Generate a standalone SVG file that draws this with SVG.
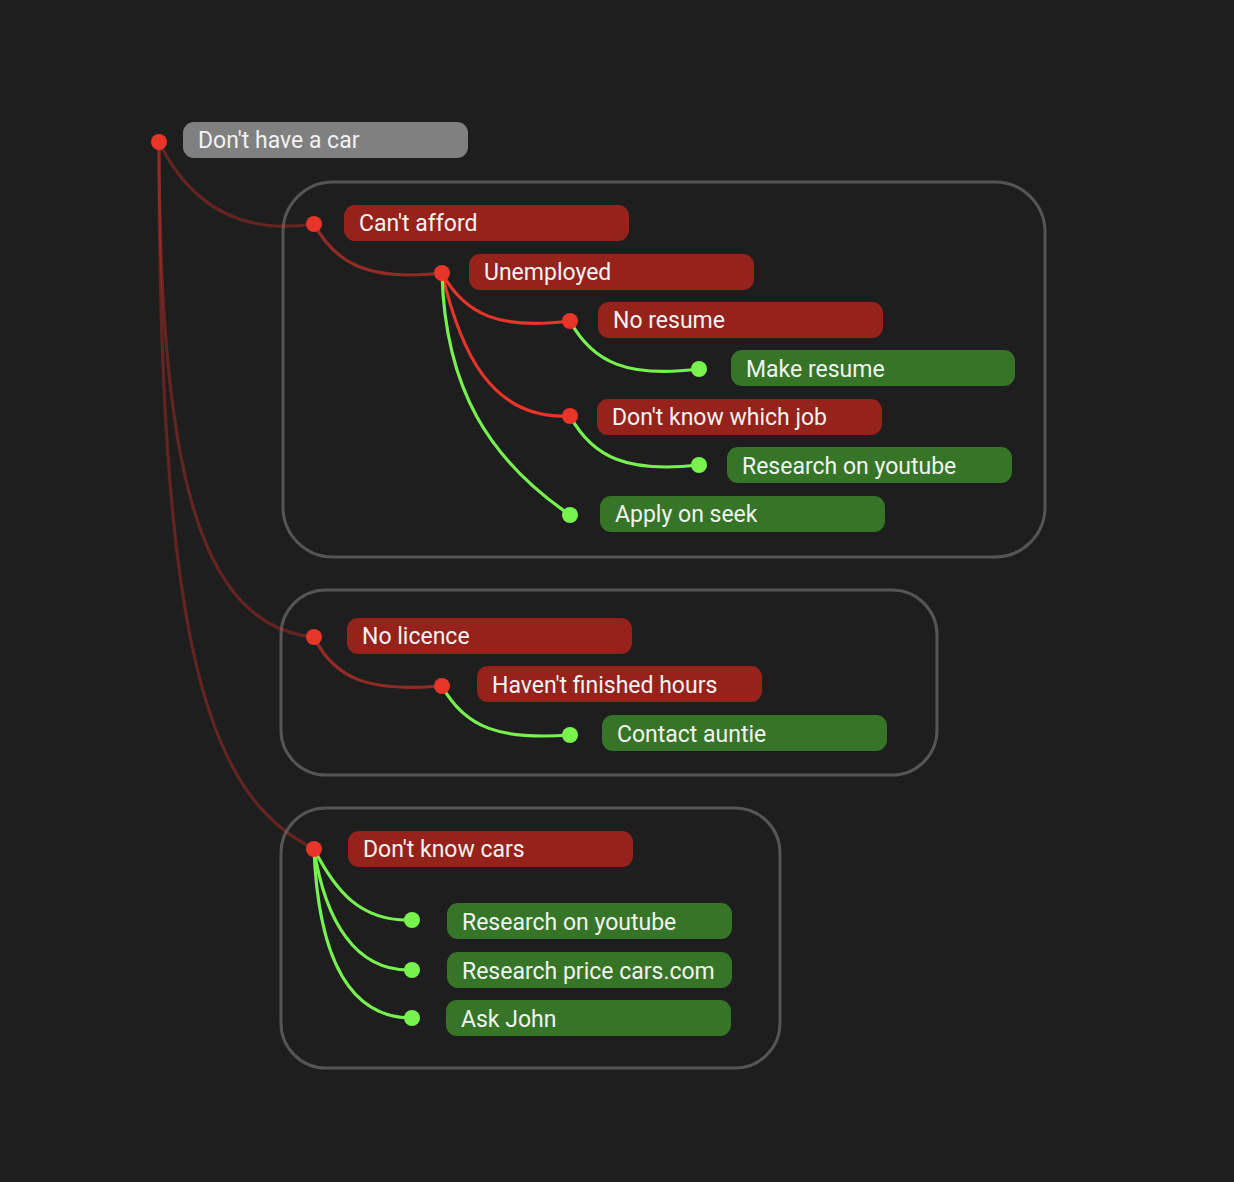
<svg xmlns="http://www.w3.org/2000/svg" width="1234" height="1182" viewBox="0 0 1234 1182">
<style>
.bg{fill:#1e1e1e}
.grp{fill:none;stroke:#555555;stroke-width:3}
.lnk{fill:none;stroke-width:3.2;stroke-linecap:round}
.r0{stroke:#e8352a;stroke-opacity:0.35}
.r1{stroke:#e8352a;stroke-opacity:0.58}
.r2{stroke:#e8352a}
.g{stroke:#78f24f}
.dr{fill:#e8352a}
.dg{fill:#78f24f}
.root{fill:#808080}
.red{fill:#95221b}
.grn{fill:#367527}
text{font-family:Roboto,"Liberation Sans",sans-serif;font-size:23px;fill:#f2f2f2}
</style>
<rect class="bg" x="0" y="0" width="1234" height="1182"/>
<g id="groups">
<rect class="grp" x="283" y="182" width="762" height="375" rx="50"/>
<rect class="grp" x="281" y="590" width="656" height="185" rx="45"/>
<rect class="grp" x="281" y="808" width="499" height="260" rx="45"/>
</g>
<g id="connectors">
<path class="lnk r0" d="M159,142 C190,205 240,235 314,224"/>
<path class="lnk r0" d="M159,142 C160,460 195,625 314,637"/>
<path class="lnk r0" d="M159,142 C159,640 205,795 314,849"/>
<path class="lnk r1" d="M314,224 C337,266 372,281 442,273"/>
<path class="lnk r2" d="M442,273 C465,315 500,330 570,321"/>
<path class="lnk r2" d="M442,273 C460,350 490,420 570,416"/>
<path class="lnk g" d="M442,273 C445,390 490,460 570,515"/>
<path class="lnk g" d="M570,321 C593,363 628,378 699,369"/>
<path class="lnk g" d="M570,416 C593,458 628,473 699,465"/>
<path class="lnk r1" d="M314,637 C335,680 370,692 442,686"/>
<path class="lnk g" d="M442,686 C465,728 500,740 570,735"/>
<path class="lnk g" d="M314,849 C335,890 360,922 412,920"/>
<path class="lnk g" d="M314,849 C325,920 355,972 412,970"/>
<path class="lnk g" d="M314,849 C318,950 345,1018 412,1018"/>
</g>
<g id="n-root"><circle class="dr" cx="159" cy="142" r="8"/><rect class="root" x="183" y="122" width="285" height="36" rx="11"/><text x="198" y="148">Don't have a car</text></g>
<g id="n-cant-afford"><circle class="dr" cx="314" cy="224" r="8"/><rect class="red" x="344" y="205" width="285" height="36" rx="11"/><text x="359" y="231">Can't afford</text></g>
<g id="n-unemployed"><circle class="dr" cx="442" cy="273" r="8"/><rect class="red" x="469" y="254" width="285" height="36" rx="11"/><text x="484" y="280">Unemployed</text></g>
<g id="n-no-resume"><circle class="dr" cx="570" cy="321" r="8"/><rect class="red" x="598" y="302" width="285" height="36" rx="11"/><text x="613" y="328">No resume</text></g>
<g id="n-make-resume"><circle class="dg" cx="699" cy="369" r="8"/><rect class="grn" x="731" y="350" width="284" height="36" rx="11"/><text x="746" y="377">Make resume</text></g>
<g id="n-which-job"><circle class="dr" cx="570" cy="416" r="8"/><rect class="red" x="597" y="399" width="285" height="36" rx="11"/><text x="612" y="425">Don't know which job</text></g>
<g id="n-research-job"><circle class="dg" cx="699" cy="465" r="8"/><rect class="grn" x="727" y="447" width="285" height="36" rx="11"/><text x="742" y="474">Research on youtube</text></g>
<g id="n-apply-seek"><circle class="dg" cx="570" cy="515" r="8"/><rect class="grn" x="600" y="496" width="285" height="36" rx="11"/><text x="615" y="522">Apply on seek</text></g>
<g id="n-no-licence"><circle class="dr" cx="314" cy="637" r="8"/><rect class="red" x="347" y="618" width="285" height="36" rx="11"/><text x="362" y="644">No licence</text></g>
<g id="n-hours"><circle class="dr" cx="442" cy="686" r="8"/><rect class="red" x="477" y="666" width="285" height="36" rx="11"/><text x="492" y="693">Haven't finished hours</text></g>
<g id="n-auntie"><circle class="dg" cx="570" cy="735" r="8"/><rect class="grn" x="602" y="715" width="285" height="36" rx="11"/><text x="617" y="742">Contact auntie</text></g>
<g id="n-cars"><circle class="dr" cx="314" cy="849" r="8"/><rect class="red" x="348" y="831" width="285" height="36" rx="11"/><text x="363" y="857">Don't know cars</text></g>
<g id="n-research-cars"><circle class="dg" cx="412" cy="920" r="8"/><rect class="grn" x="447" y="903" width="285" height="36" rx="11"/><text x="462" y="930">Research on youtube</text></g>
<g id="n-price"><circle class="dg" cx="412" cy="970" r="8"/><rect class="grn" x="447" y="952" width="285" height="36" rx="11"/><text x="462" y="979">Research price cars.com</text></g>
<g id="n-john"><circle class="dg" cx="412" cy="1018" r="8"/><rect class="grn" x="446" y="1000" width="285" height="36" rx="11"/><text x="461" y="1027">Ask John</text></g>
</svg>
